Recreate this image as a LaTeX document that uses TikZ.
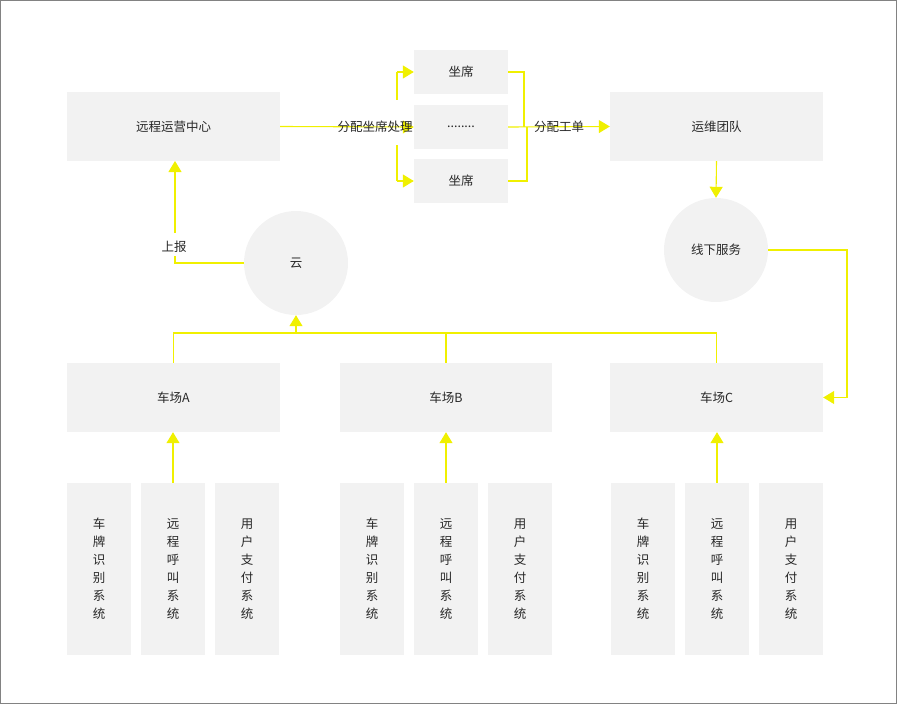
\documentclass[tikz,border=0pt]{standalone}
\usepackage{fontspec}
\setmainfont{Noto Sans CJK SC}
\usetikzlibrary{arrows.meta}
\definecolor{boxfill}{RGB}{242,242,242}
\definecolor{linky}{RGB}{240,240,0}
\definecolor{txt}{RGB}{40,40,40}
\definecolor{frame}{RGB}{130,130,130}
\begin{document}
\begin{tikzpicture}[x=1pt,y=-1pt,
  every node/.style={font=\fontsize{12.5}{18}\selectfont, text=txt},
  box/.style={fill=boxfill, draw=none, inner sep=0pt},
  circ/.style={circle, fill=boxfill, draw=none, minimum size=104pt, inner sep=0pt},
  conn/.style={draw=linky, line width=1.1pt},
  arr/.style={conn, -{Triangle[width=13pt,length=11pt]}},
  lbl/.style={inner sep=1pt}]
\useasboundingbox (0,0) rectangle (897,704);
\draw[frame, line width=1pt] (0.5,0.5) rectangle (896.5,703.5);
% top row
\node[box, minimum width=213pt, minimum height=69pt] (rc) at (173.5,126.5) {远程运营中心};
\node[box, minimum width=94pt, minimum height=44pt] (s1) at (461,72) {坐席};
\node[box, minimum width=94pt, minimum height=44pt] (s2) at (461,127) {........};
\node[box, minimum width=94pt, minimum height=44pt] (s3) at (461,181) {坐席};
\node[box, minimum width=213pt, minimum height=69pt] (yw) at (716.5,126.5) {运维团队};
% circles
\node[circ] (cloud) at (296,263) {云};
\node[circ] (xx) at (716,250) {线下服务};
% parks
\node[box, minimum width=213pt, minimum height=69pt] (pa) at (173.5,397.5) {车场A};
\node[box, minimum width=212pt, minimum height=69pt] (pb) at (446,397.5) {车场B};
\node[box, minimum width=213pt, minimum height=69pt] (pc) at (716.5,397.5) {车场C};
% systems
\foreach \g/\xa/\xb/\xc in {a/99/173/247, b/372/446/520, c/643/717/791}{
  \node[box, minimum width=64pt, minimum height=172pt, align=center] (\g1) at (\xa,569) {车\\牌\\识\\别\\系\\统};
  \node[box, minimum width=64pt, minimum height=172pt, align=center] (\g2) at (\xb,569) {远\\程\\呼\\叫\\系\\统};
  \node[box, minimum width=64pt, minimum height=172pt, align=center] (\g3) at (\xc,569) {用\\户\\支\\付\\系\\统};
}
% coordinates
\coordinate (fork) at (397,127);
\coordinate (mt) at (524,72);
\coordinate (mb) at (527,181);
\coordinate (bus) at (296,333);
\coordinate (rp) at (847,250);
% connectors: top
\draw[arr] (rc.east) -- (s2.west);
\draw[arr] (s2.east) -- (yw.west);
\draw[conn] (fork |- s1.west) -- (397,100);
\draw[conn] (397,145) -- (fork |- s3.west);
\draw[arr] (fork |- s1.west) -- (s1.west);
\draw[arr] (fork |- s3.west) -- (s3.west);
\draw[conn] (s1.east) -- (mt) -- (mt |- yw.west);
\draw[conn] (s3.east) -- (mb) -- (mb |- yw.west);
\node[lbl] (l1) at (375,127) {分配坐席处理};
\node[lbl] (l2) at (559,127) {分配工单};
% right side
\draw[arr] (yw.south) -- (xx.north);
\draw[arr] (xx.east) -- (rp) -- (rp |- pc.east) -- (pc.east);
% left report
\draw[conn] (cloud.west) -- (175,263) -- (175,256);
\draw[arr] (175,233) -- (175,161);
\node[lbl] (l3) at (174,247) {上报};
% bus to cloud
\draw[conn] (pa.north) -- (pa.north |- bus) -- (pc.north |- bus) -- (pc.north);
\draw[conn] (pb.north) -- (pb.north |- bus);
\draw[arr] (bus) -- (cloud.south);
% systems to parks
\draw[arr] (a2.north) -- (a2.north |- pa.south);
\draw[arr] (b2.north) -- (b2.north |- pb.south);
\draw[arr] (c2.north) -- (c2.north |- pc.south);
\end{tikzpicture}
\end{document}
